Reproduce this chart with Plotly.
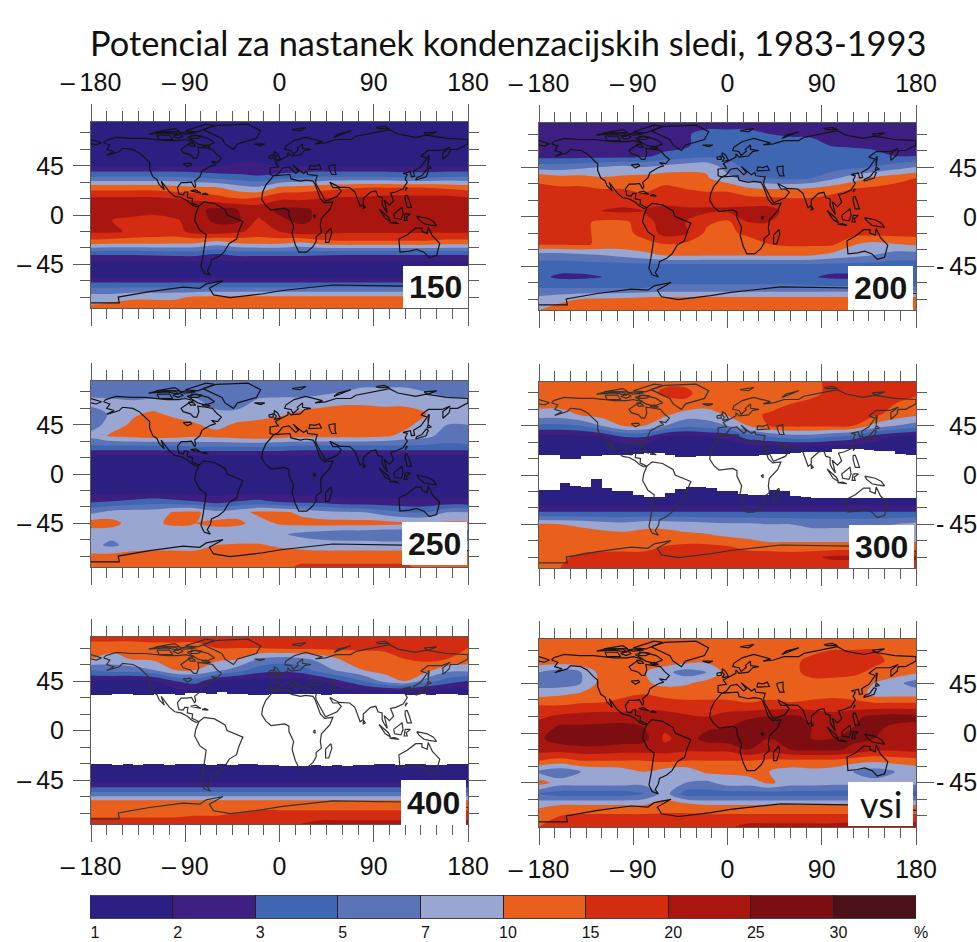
import numpy as np
import plotly.graph_objects as go

W, H = 977, 942
LONS = [-180,-160,-140,-120,-100,-80,-60,-40,-20,0,20,40,60,80,100,120,140,160,180]
LATS = [85,75,65,55,45,35,25,15,5,-5,-15,-25,-35,-45,-55,-65,-75,-85]
LEVELS = [1,2,3,5,7,10,15,20,25,30]
BAR_LABELS = ["1","2","3","5","7","10","15","20","25","30","%"]
BAND_COLORS = ["#2c1f82","#3c1f80","#3f66b2","#5b74b8","#9aa6d2","#e9601c","#d42c10","#a91610","#7c0e12","#4a1119"]

Z150 = [
[1.5]*19,[1.5]*19,[1.5]*19,[1.5]*19,
[1.9,1.9,1.9,1.9,1.9,1.9,1.9,2.2,2.2,1.9,1.9,1.9,1.9,1.9,1.9,1.9,1.9,1.9,1.9],
[5,5,5,5,5,4.5,4,3.5,3.2,4,4.5,5,5,5,5,4.5,4.5,5,5],
[13,13,13,13,12,11,10.5,8.5,7.5,11,12,13,14,15,15,15,15,14,13],
[21,21,21,21,20,19,17,15,16,19,19,20,21,21,22,22,22,22,21],
[23,23,22,22,24,24,26,25,23,26,26,24,24,24,24,24,24,24,23],
[22,20,19,18,19,23,26,26,19,24,26,24,23,23,24,24,24,23,22],
[21,21,19,18,18,22,23,21,18,20,23,22,21,21,21,21,21,21,21],
[13,12,12,12,11.5,11,9,11,12,12,10,13,14,14,14,14,14,13,13],
[3.6,3.6,3.6,3.8,4,4,3.2,4,4,4,4,3.8,3.6,3.6,3.6,3.6,3.6,3.6,3.6],
[1.5]*19,[1.5]*19,
[4.5,4.5,4.5,4.5,4.5,4.5,4.5,4.5,4.5,4.5,4.5,4.5,4.5,4.5,4.5,4.5,4.5,4.5,4.5],
[8.5,8.5,9.5,9.5,9.5,10.5,11,11,11,11,11,11,11,11,11,11,11,11,11],
[11,12.5,12.5,12.5,12.5,12.5,12.5,12.5,12.5,12.5,12.5,12.5,12.5,12.5,12.5,12.5,12.5,12.5,12.5],
]
Z200 = [
[2.3,2.3,2.3,2.3,2.3,2.3,2.3,2.3,2.3,2.3,2.3,2.3,2.3,2.4,2.5,2.5,2.5,2.5,2.5],
[2.5,2.3,2.3,2.3,2.3,2.3,2.3,2.8,4,4,4,3,2.8,2.8,2.6,2.5,2.5,2.5,2.5],
[2.5,2.5,2.5,2.5,2.5,2.5,2.6,2.8,4.2,4.5,4.5,4.5,4.2,3.8,2.9,2.8,2.8,2.6,2.6],
[2.6,2.6,2.6,2.6,2.6,2.8,3.5,4,4.5,4.5,4.5,4.5,4.5,4.5,4.5,4.2,3.5,3,3],
[6,6,6.5,7,8,7,8,9,9.5,6,4.5,4.2,4,4,4,4.5,5,6,7],
[14,12,12,10.5,11,12,13,12,10.5,8,6,5,4.5,5,6.5,8.5,11,13,15],
[16,16,16,15,15,14,16,15,14,14,11,10,10,11,13,15,16,17,17],
[17,17,18,19,18,17,19,18,18,18,17,17,16,16,17,17,18,18,18],
[18,18,18,20,21,20,21,21,21,21,22,22,18,18,18,18,18,18,18],
[17,17,16,14,14,17,23,20,16,14,20,20,18,18,18,18,18,18,17],
[17,17,16,14,14,16,22,21,14,14,16,16,17,17,17,17,17,17,17],
[16,16,16,14,13,14,15,14,13,13,13,15,16,16,16,10.5,9,10,11],
[6,6,6.5,7,8,9,10.5,11,10.5,10.5,10.5,11,11,10.5,9,8,7,6,6],
[4,4,4,4,4,4,4,4,4,4,4,4,4,4,4,4,4,4,4],
[3.5,2.8,2.8,3,4,4,4,4,4,4,4,4,4,3.2,2.8,2.8,3,3,3],
[5,5,5,5,5,5,5.5,5.5,5.5,5.5,5.5,5.5,5.5,5.5,5.5,5.5,5.5,5.5,5.5],
[8,9,10,10.5,11,12,12,12,12,12,12,12,12,12,12,12,12,12,12],
[10,12.5,12.5,12.5,12.5,12.5,12.5,12.5,12.5,12.5,12.5,12.5,12.5,12.5,12.5,12.5,12.5,12.5,12.5],
]
Z250 = [
[6]*19,
[6.5,6,5,6,5,6,6,6,6,6,6,6.5,7,8,8,8,7,6.5,6],
[7.8,8,8,8,8.5,8,6,6,8,8.5,8.5,9,9.5,9.5,9,9,8.5,8,8],
[6,7.5,9.5,11,9,8.5,8,8,8.5,9.5,11,12,13,13,13,13,10,8,7.5],
[6,8.5,11,12.5,13,10.5,9,11,12,12.5,13,13,13,13,13,11.5,8.5,7,7],
[8,11,12,13,12.5,11,12,13,14,12.5,12,12,12,12,11,9,8,6,7],
[4.5,4.5,4.5,4.5,4.5,5,5,5,5,5,4.5,4.5,4.5,4.5,4.5,4.5,4.5,4.5,4.5],
[1.5]*19,[1.5]*19,[1.5]*19,[1.5]*19,
[2.8,3,3.5,4,3.5,3,2.5,3,3.5,2.8,2.6,2.6,2.2,2.2,2.2,2.2,2.2,2.2,2.2],
[6.5,8,8.5,8.5,10.5,11,8,9,11,11,9.5,8,7.5,7,6,5,5,7,7],
[12.5,12,8.5,9.5,11,10,11.5,11,9,10.5,11.5,12,12,12,12,11,11,11,11],
[8,8,8,8,8,8,8,8,8,7.5,6.5,6,5.5,5.5,5,5,5.5,5.5,5.5],
[8,6.5,8.5,8.5,8.5,8.5,10,10.5,10.5,9.5,9,8.5,8.5,8.5,8.5,8.5,8.5,8.5,8.5],
[11,12,12,12.5,12.5,12.5,12.5,12.5,12.5,12.5,12.5,12.5,12.5,12.5,12.5,12.5,12.5,12.5,12.5],
[12.5,12.5,12.5,12.5,12.5,12.5,12.5,12.5,12.5,13,16,16,16,16,16,16,13,13,13],
]
Z300 = [
[13,13,14,14,14,14,14,14,14,14,14,14,14,14,16,16,16,16,16],
[13,13,13,13,13,13,16,16,13,13,13,13,13,14,16,16,16,16,16],
[12,12,12,12,12,12,13,14,12,12,12,12,15,16,16,16,16,15,13],
[8.5,8.5,10.5,12,12,12,11,8.5,8.5,10.5,13,16,16,16,16,16,16,13,11],
[4.5,4.5,5,7,10,10,7,5.5,6,7,10,15,16,16,16,15,9,7,6],
[1.7,1.7,1.8,2,3,3.2,2,1.8,2,2.2,4,5,6,6,5,4,2.5,2,1.8],
[1.5]*19,[1.5]*19,[1.5]*19,[1.5]*19,[1.5]*19,[1.5]*19,
[3.5,3.5,3.5,3.5,3.5,3.5,3.5,3.5,3.5,3.5,3.5,3.5,3.5,3.5,3.5,3.5,3.5,3.5,3.5],
[10.5,10,9.5,8.5,8,9,9,8.5,8,7.5,7.5,7,7,6.5,6.5,6.5,6.5,7,8],
[12,12,12,12,11.5,12,12,11,10.5,9.5,9,8.5,8.5,8.5,8.5,8.5,8.5,8.5,8.5],
[13,13,13,13,13,13,15,16,16,15,13,11.5,11.5,11.5,11.5,11.5,11.5,11.5,11.5],
[14,14,16,17,17,17,17,17,17,17,18,19,18,19,21,21,21,21,21],
[15,15,17,17,17,17,17,17,17,17,17,17,17,17,17,17,17,17,17],
]
Z400 = [
[17]*19,
[12,12,12,13,13,13,15,15,15,16,16,16,16,16,16,16,16,16,15],
[10.5,8.5,10.5,11,12,12,11,10.5,7,6,6.5,8,10.5,12,13,15,16,15,13],
[5,6,6,7,10,10,8,6,4,3.5,4,6,8,10,12,12,12,8,8],
[2,1.7,1.7,1.8,3,4,2,1.6,1.6,1.6,1.6,2,3,5,8,10,6,4,3],
[1.5]*19,[1.5]*19,[1.5]*19,[1.5]*19,[1.5]*19,[1.5]*19,[1.5]*19,[1.5]*19,[1.5]*19,
[4.5]*19,
[12]*19,
[13,13,13,13,13,14,14,15,16,16,16,16,16,16,16,16,16,16,16],
[18,18,18,18,18,18,18,18,18,18,20,22,22,22,22,22,22,22,22],
]
ZVSI = [
[13]*19,
[13,13,15,15,13,13,13,13,13,13,13,13,13,14,15,15,15,15,13],
[13,13,14,15,15,14,13,12,11,13,13,13,14,16,16,16,16,14,13],
[7,6,7,12,14,10.5,8,6,7,12,14,14,14,16,16,16,14,13,11],
[6,6,7,12,14,11,9,9.5,12,14,14,14,14,14,14,13,10,8,6],
[9,9.5,11,12,14,15,14,14,14,14,12,13,10,13,14,13,9,9,9],
[15,15,16,16,17,17,17,16,16,16,16,17,17,17,17,17,17,17,17],
[19,21,22,23,22,24,23,21,20,23,24,25,26,24,22,24,26,27,26],
[22,26,26,26,27,25,21,22,24,25,28,28,27,25,24,25,26,24,24],
[24,28,29,29,28,27,19,22,27,28,26,25,26,25,25,26,25,25,24],
[22,22,23,23,22,22,22,21,21,21,25,22,25,26,26,24,21,21,22],
[15,13,15,15,15,15,16,15,15,15,15,14,14,14,14,12,11,12,13],
[6.5,5.5,7,8,8.5,10,8.5,8,11,11,12,10,8.5,9,8.5,7,6,7,8],
[12.5,8.5,8.5,8.5,8.5,8,8,7,6.5,8.5,8.5,11,8.5,8.5,8,8,8,8,8],
[5,4,4,4,4,5,8.5,4,4,4,4,4,4,4,4,4,4,4,4],
[9,10,10,10,10,10,12,12,10,10,10,10,10,10,10,10,10,10,10],
[14,15,16,16,16,16,16,16,16,16,16,16,16,16,16,16,16,16,16],
[15,16,16,16,16,16,16,16,16,19,22,22,22,22,22,23,23,23,23],
]

GAP_LONS = [-175,-165,-155,-145,-135,-125,-115,-105,-95,-85,-75,-65,-55,-45,-35,-25,-15,-5,5,15,25,35,45,55,65,75,85,95,105,115,125,135,145,155,165,175]
GAP300_N = [18,18,15,15,17,17,18,18,18,19,20,20,18,16,16,17,17,17,17,17,17,18,19,19,20,21,21,21,24,24,24,23,22,22,19,18]
GAP300_S = [-14,-14,-7,-10,-11,-4,-12,-15,-15,-18,-20,-20,-16,-13,-11,-11,-12,-15,-15,-17,-18,-18,-14,-15,-19,-20,-21,-21,-21,-21,-21,-21,-21,-21,-21,-21]
GAP400_N = [32,32,33,33,32,32,33,33,32,34,34,33,35,33,33,32,32,33,33,33,33,33,32,33,33,33,33,33,33,33,32,33,32,33,33,32]
GAP400_S = [-30,-30,-31,-30,-31,-30,-30,-31,-30,-30,-30,-31,-30,-31,-30,-30,-31,-31,-32,-32,-32,-31,-32,-31,-32,-31,-31,-30,-30,-31,-30,-30,-31,-31,-30,-30]

NORTH_AMERICA = [(-168,66),(-162,64),(-165,60),(-158,58),(-165,54.5),(-153,58),(-150,61),(-140,60),(-134,57),(-128,51),(-124,48),(-124,42),(-121,35),(-117,32.5),(-115,28),(-110,23),(-113,31),(-109,26),(-105,21),(-100,17),(-94,16),(-88,13),(-84,9.5),(-80,7.5),(-77,8),(-80,9.5),(-83.5,11),(-83,15),(-88,16),(-87.5,21),(-90.5,21),(-92,18.5),(-96,19),(-97.5,25),(-94,29.5),(-89,29.5),(-84,30),(-81,25),(-80,27),(-81,31),(-76,35),(-74,40),(-70,42),(-66,44.5),(-61,46),(-65,49),(-59,48),(-55.5,52),(-60,55.5),(-64,60),(-70,61),(-78,62),(-77,57),(-79,52),(-82,52),(-85,55),(-92,57),(-94,60),(-88,64),(-82,67),(-90,69),(-96,68),(-108,68),(-116,69),(-128,70),(-141,70),(-156,71),(-166,68),(-168,66)]
SOUTH_AMERICA = [(-77,8),(-72,12),(-62,10.5),(-52,5),(-50,0),(-44,-2.5),(-35,-6),(-39,-15),(-41,-22),(-48,-26),(-53,-34),(-58,-38),(-65,-41),(-66,-46),(-69,-51),(-66,-55),(-72,-53),(-75,-47),(-73,-37),(-70,-18),(-76,-14),(-81,-5),(-80,1),(-77,8)]
AFRICA = [(-5.5,36),(10,37),(11,33),(20,31),(25,32),(32,31),(34,28),(37,21),(39,15),(43,11),(51,12),(48,5),(40,-3),(39,-10),(40,-16),(35,-20),(35,-24),(32,-29),(26,-34),(18.5,-34),(15,-27),(12,-17),(13.5,-10),(9,-1),(9,4),(5,6),(-4,5),(-8,4.5),(-13,8.5),(-17,14.5),(-16,21),(-13,27.5),(-9,32),(-5.5,36)]
EURASIA = [(-5,36),(-9,37),(-9,43),(-1,44),(-4,48),(2,51),(8,54),(8,57),(11,54),(20,55),(24,59),(30,60),(22,61),(22,65),(17,61),(18,59.5),(13,55.5),(11,59),(5,60),(6,63),(14,68),(25,71),(41,67),(34,65),(44,66),(54,69),(68,69),(73,72),(88,75),(105,78),(113,74),(130,71),(140,73),(160,70),(180,69),(180,65),(170,60),(163,60),(162,56),(156,51),(156,57),(163,62),(155,59),(142,59),(135,54),(141,52),(135,44),(128,40),(129,35.5),(126,35),(125,39.5),(121,39),(118,38),(122,37),(120,33),(122,30),(118,24),(111,21),(106,20),(109,13),(105,9),(100,13.5),(103,2),(100,6),(98,10),(98,16),(94,17),(92,22),(87,21),(80,15),(80,10),(77,8),(73,18),(72,21),(67,25),(57,25.5),(52,28),(48,30),(51,25),(56,25),(59,22),(55,17),(44,12.5),(39,21),(35,28),(34.5,31),(36,36),(27,37),(26,40),(23,38),(20,40),(13,45.5),(18,40),(15.5,38),(9,44),(3,43),(-1,38),(-5,36)]
CHUKOTKA = [(-180,69),(-170,66),(-175,64),(-180,65)]
AUSTRALIA = [(114,-22),(122,-18),(130,-12),(136,-12),(136,-15),(141,-17),(142,-11),(146,-19),(153,-26),(150,-37),(143,-39),(138,-34),(131,-31.5),(124,-33),(115,-34),(114,-22)]
GREENLAND = [(-73,78),(-60,82),(-30,83),(-18,77),(-22,70),(-40,65),(-44,60),(-52,65),(-55,70),(-73,78)]
ANTARCTICA = [(-180,-80.4),(-153,-80.4),(-154,-75),(-145,-73.4),(-124,-70),(-92,-66),(-76,-67),(-70,-63),(-54,-60),(-67,-67),(-63,-73),(-47,-75.5),(-16,-72),(3,-69),(51,-64),(118,-65),(180,-70)]
ISLANDS = [
[(-5,50),(1,51),(-2,56),(-5,58),(-5,55),(-3,53),(-5,50)],
[(-10,52),(-6,52),(-6,55),(-10,54),(-10,52)],
[(-24,65),(-14,65),(-18,63.5),(-24,65)],
[(130,32),(136,34),(140,35),(142,40),(140,41),(136,36),(131,34),(130,32)],
[(141,42),(145,43),(142,45),(141,42)],
[(95,5.5),(104,-2),(106,-6),(101,-3),(95,5.5)],
[(105,-7),(114,-8),(110,-6.5),(105,-7)],
[(109,1),(117,7),(118,1),(116,-4),(110,-3),(109,1)],
[(120,1),(125,1),(121,-2),(122,-5),(119,-5),(120,1)],
[(131,-1),(141,-3),(147,-6),(150,-10),(143,-9),(138,-8),(133,-4),(131,-1)],
[(120,18),(122,18),(124,13),(126,7),(122,7),(120,14),(120,18)],
[(49,-12),(50,-16),(47,-25),(44,-25),(44,-17),(49,-12)],
[(-85,22),(-75,20),(-80,23),(-85,22)],
[(-74,19),(-68,18.5),(-71,20),(-74,19)],
[(-80,73),(-68,70),(-62,66),(-70,63),(-78,65),(-88,71),(-80,73)],
[(-117,73),(-105,73),(-102,69),(-115,69),(-117,73)],
[(-90,77),(-70,83),(-62,82),(-78,76),(-90,77)],
[(-125,74),(-116,76),(-100,76),(-96,73),(-108,75),(-125,74)],
[(-118,76),(-108,78),(-100,79),(-95,76),(-105,76),(-118,76)],
[(-96,75),(-88,76),(-80,75),(-90,74),(-96,75)],
[(-102,72),(-95,74),(-92,72),(-97,70),(-102,72)],
[(-85,70),(-78,70),(-74,72),(-84,73),(-85,70)],
[(-87,66),(-82,65),(-80,63),(-85,63),(-87,66)],
[(-74,63),(-72,62),(-66,62),(-70,64),(-74,63)],
[(12,78),(25,80),(20,77),(12,78)],
[(52,71),(68,77),(56,74),(52,71)],
[(92,80),(100,81),(105,79),(95,79),(92,80)],
[(138,75),(150,76),(142,73),(138,75)],
[(142,46),(143,54),(142,54),(142,46)],
[(28,41.5),(29,45),(34,44.5),(38,46),(40,42),(32,41.5),(28,41.5)],
[(47,45),(53,46),(53,40),(54,37),(50,37),(48,41),(47,45)],
[(32,-1),(34,0.5),(34,-2.5),(32,-1)],
[(-92,47),(-85,47.5),(-84,46),(-88,44),(-92,47)],
[(80,9.5),(82,7),(80,6),(80,9.5)],
[(120,22),(122,25),(121,25),(120,22)],
]

LAND = [NORTH_AMERICA, SOUTH_AMERICA, AFRICA, EURASIA, CHUKOTKA, AUSTRALIA, GREENLAND, ANTARCTICA] + ISLANDS
coast_x, coast_y = [], []
for part in LAND:
    coast_x += [p[0] for p in part] + [None]
    coast_y += [p[1] for p in part] + [None]

PANELS = [
    ("150", Z150, None, None, 91, 468, 122, 308, (403,468,266,308)),
    ("200", Z200, None, None, 539, 916, 123, 310, (848,913,266,310)),
    ("250", Z250, None, None, 91, 468, 381, 567, (402,467,522,565)),
    ("300", Z300, GAP300_N, GAP300_S, 539, 916, 382, 568, (849,914,525,568)),
    ("400", Z400, GAP400_N, GAP400_S, 91, 468, 637, 824, (401,466,780,825)),
    ("vsi", ZVSI, None, None, 539, 916, 639, 827, (848,913,782,826)),
]
scale = []
for i, c in enumerate(BAND_COLORS):
    scale += [[i/10, c], [(i+1)/10, c]]
IDX = [0,1,2,3,4,5,6,7,8,9,11]
IDX_VALS = LEVELS + [45]
to_band = lambda t: np.interp(np.array(t, dtype=float), IDX_VALS, IDX)

AX = "#5a5a5a"
LABEL_FONT = dict(family="Liberation Sans", size=25, color="#111")
fig = go.Figure()
layout = dict(width=W, height=H, margin=dict(l=0, r=0, t=0, b=0, pad=0, autoexpand=False), paper_bgcolor="white",
              plot_bgcolor="white", showlegend=False, barmode="overlay", bargap=0, shapes=[], annotations=[])
XT = [-180,-90,0,90,180]
XTT = ["–\u2009180","–\u200990","0","90","180"]
YT = [-45,0,45]
YTT = ["–\u200945","0","45"]
for k, (name, tab, gn, gs, x0, x1, yt, yb, box) in enumerate(PANELS):
    n = k + 1
    xn, yn = f"x{n}", f"y{n}"
    xk, yk = f"xaxis{n}", f"yaxis{n}"
    fig.add_trace(go.Contour(x=LONS, y=LATS, z=to_band(tab), xaxis=xn, yaxis=yn, colorscale=scale, zmin=0, zmax=10,
                             autocontour=False, contours=dict(start=0, end=10, size=1, coloring="fill", showlines=False),
                             line=dict(width=0), showscale=False, hoverinfo="skip"))
    if gn:
        fig.add_trace(go.Bar(x=GAP_LONS, base=gs, y=[a-b for a, b in zip(gn, gs)], width=10.2, xaxis=xn, yaxis=yn,
                             marker=dict(color="white", line=dict(width=0)), hoverinfo="skip"))
    fig.add_trace(go.Scatter(x=coast_x, y=coast_y, mode="lines", xaxis=xn, yaxis=yn,
                             line=dict(color="#141414" if not gn else "#333", width=1.2), hoverinfo="skip", connectgaps=False))
    side = "top" if k < 2 else "bottom"
    showx = k < 2 or k > 3
    layout[xk] = dict(domain=[x0/W, x1/W], range=[-180,180], anchor=yn, side=side, showgrid=False, zeroline=False,
                      showline=True, linecolor=AX, linewidth=1, mirror="ticks", ticks="outside", ticklen=17, tickcolor=AX,
                      tickvals=XT, ticktext=XTT if showx else [""]*5, tickfont=LABEL_FONT, tickangle=0, ticklabelstandoff=3,
                      minor=dict(tickmode="linear", tick0=-180, dtick=15, ticks="outside", ticklen=10, tickcolor=AX, showgrid=False))
    left = k % 2 == 0
    layout[yk] = dict(domain=[1-yb/H, 1-yt/H], range=[-85,85], anchor=xn, side="left" if left else "right", showgrid=False, zeroline=False,
                      showline=True, linecolor=AX, linewidth=1, mirror="ticks", ticks="outside", ticklen=17, tickcolor=AX,
                      tickvals=YT, ticktext=YTT if left else [""]*3, tickfont=LABEL_FONT, ticklabelstandoff=4,
                      minor=dict(tickmode="linear", tick0=-75, dtick=15, ticks="outside", ticklen=10, tickcolor=AX, showgrid=False))
    bx0, bx1, by0, by1 = box
    layout["shapes"].append(dict(type="rect", xref="paper", yref="paper", x0=bx0/W, x1=bx1/W, y0=1-by1/H, y1=1-by0/H,
                                 fillcolor="white", line=dict(width=0), layer="above"))
    is_vsi = name == "vsi"
    layout["annotations"].append(dict(xref="paper", yref="paper", x=(bx0+bx1)/2/W, y=1-(by0+by1)/2/H, showarrow=False,
                                      xanchor="center", yanchor="middle",
                                      text=name if is_vsi else f"<b>{name}</b>",
                                      font=dict(family="Lato" if is_vsi else "Liberation Sans", size=36 if is_vsi else 32, color="#151515")))
    if not left:
        ctr = (yt + yb) / 2
        for lab, lx, dy in (("45", 947, -49), ("0", 961, 0), ("-\u200945", 934, 49)):
            layout["annotations"].append(dict(xref="paper", yref="paper", x=lx/W, y=1-(ctr+dy)/H, xanchor="left", yanchor="middle", showarrow=False,
                                              text=lab, font=LABEL_FONT))

m = len(PANELS) + 1
fig.add_trace(go.Heatmap(x=list(range(11)), y=[0,1], z=[[i+0.5 for i in range(10)]], xaxis=f"x{m}", yaxis=f"y{m}",
                         colorscale=scale, zmin=0, zmax=10, showscale=False, hoverinfo="skip"))
layout[f"xaxis{m}"] = dict(domain=[90/W, 916/W], range=[0,10], anchor=f"y{m}", showgrid=False, zeroline=False, showline=True,
                           linecolor="#444", mirror=True, ticks="inside", ticklen=23, tickcolor="#222", tickvals=list(range(11)),
                           ticktext=BAR_LABELS, tickfont=dict(family="Liberation Sans", size=16, color="#111"), tickangle=0,
                           ticklabelshift=5, ticklabelstandoff=0)
layout[f"yaxis{m}"] = dict(domain=[1-918/H, 1-896/H], range=[0,1], anchor=f"x{m}", showgrid=False, zeroline=False, showticklabels=False, ticks="")
layout["annotations"].append(dict(xref="paper", yref="paper", x=88/W, y=1-43/H, xanchor="left", yanchor="middle", showarrow=False,
                                  text="Potencial za nastanek kondenzacijskih sledi, 1983-1993",
                                  font=dict(family="Lato", size=34.4, color="#111")))
fig.update_layout(**layout)
fig.write_html("out.html", config=dict(displayModeBar=False), post_script="document.body.style.margin='0';document.body.style.overflow='hidden';window.dispatchEvent(new Event('resize'));")
